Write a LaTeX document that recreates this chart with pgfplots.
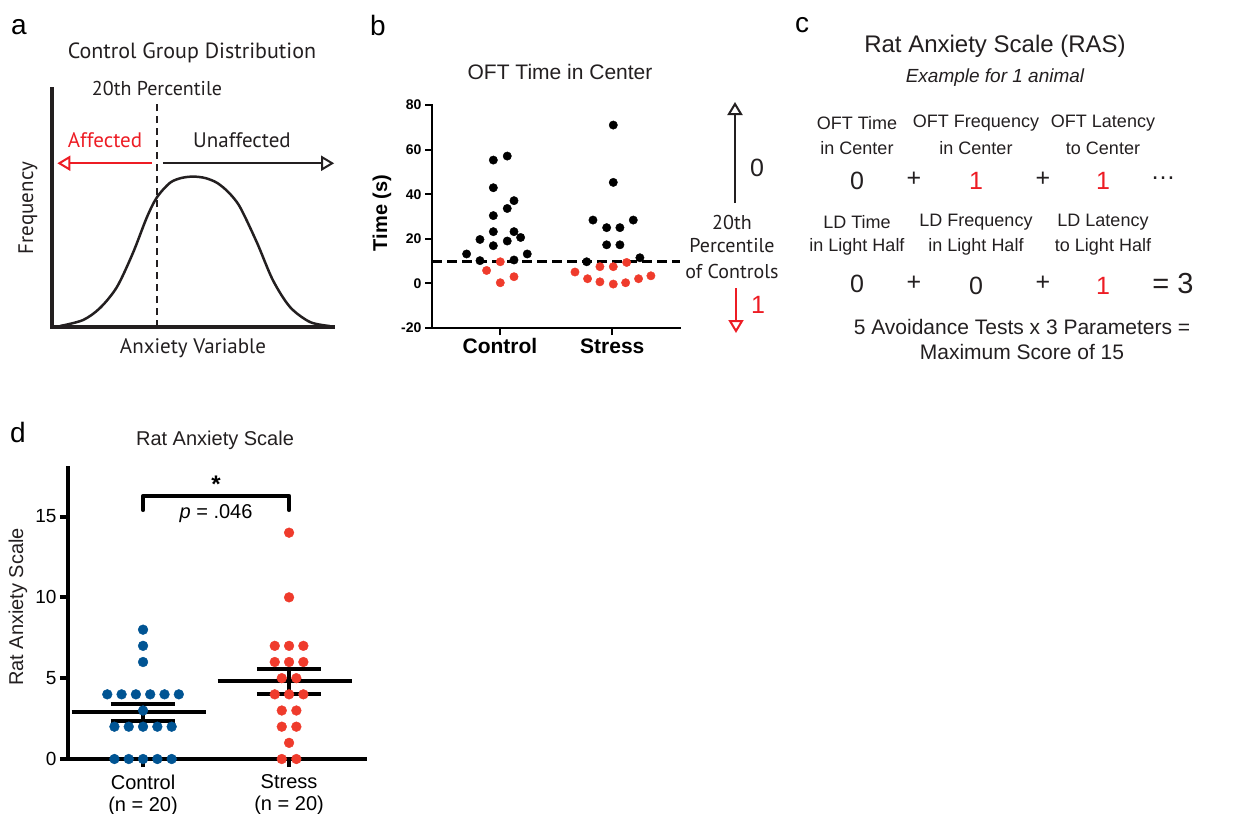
\documentclass[border=0pt]{standalone}
\usepackage{fontspec}
\setmainfont{Liberation Sans}
\newfontfamily\myriad{PT Sans}
\usepackage{pgfplots}
\pgfplotsset{compat=1.18}
\usetikzlibrary{arrows.meta}

\definecolor{dotred}{RGB}{239,59,44}
\definecolor{txtred}{RGB}{237,28,36}
\definecolor{dotblue}{RGB}{0,84,147}
\definecolor{ink}{RGB}{35,31,32}

\newcommand\fs[2]{\fontsize{#1}{#2}\selectfont}

\pgfplotsset{panel/.style={scale only axis, axis lines=left, tick align=outside,
  clip=false, /pgf/number format/assume math mode=true}}
\tikzset{openhead/.style={-{Triangle[open,length=13pt,width=15pt]}}}

\begin{document}
\begin{tikzpicture}[x=1pt,y=-1pt]
\useasboundingbox (0,0) rectangle (1256,814);

% ---------------- a: control group distribution ----------------
\begin{axis}[panel, at={(52pt,-327pt)}, anchor=south west,
  width=281pt, height=238pt, xmin=0, xmax=100, ymin=0, ymax=100,
  xtick=\empty, ytick=\empty,
  axis line style={-, line width=4pt, line cap=rect, ink}]
\addplot[ink, line width=2.5pt, smooth, tension=0.5] coordinates {
  (2.8,0.4) (11.0,2.9) (17.1,8.0) (23.1,16.8) (28.8,31.1) (33.8,46.2)
  (37.4,54.6) (42.0,60.6) (46.0,62.6) (50.2,63.2) (54.5,62.6) (58.7,60.6)
  (62.8,56.6) (66.9,50.4) (73.0,35.3)
  (78.6,19.7) (84.7,8.4) (91.8,2.1) (98.9,0.4)};
\addplot[ink, line width=2pt, dash pattern=on 7pt off 5pt] coordinates {(37.4,0) (37.4,94.1)};
\draw[txtred, line width=2pt, openhead]
  (axis cs:35.6,68.8) -- (axis cs:1.9,68.8);
\draw[ink, line width=2pt, openhead]
  (axis cs:39.5,68.8) -- (axis cs:100.4,68.8);
\end{axis}
\node[font=\fs{28}{30}] at (19,27) {a};
\node[font=\myriad\fs{22}{25}, ink] at (192,53) {Control Group Distribution};
\node[font=\myriad\fs{20}{22}, ink] at (157,88) {20th Percentile};
\node[font=\myriad\fs{21}{23}, txtred] at (105,140) {Affected};
\node[font=\myriad\fs{21}{23}, ink] at (242,140) {Unaffected};
\node[font=\myriad\fs{21}{23}, ink, rotate=90] at (28,208) {Frequency};
\node[font=\myriad\fs{21}{23}, ink] at (193,348) {Anxiety Variable};

% ---------------- b: OFT time in center ----------------
\begin{axis}[panel, at={(432pt,-328pt)}, anchor=south west,
  width=248pt, height=223pt, xmin=-0.605, xmax=1.603, ymin=-20, ymax=80,
  ytick={-20,0,20,40,60,80}, xtick={0,1}, xticklabels={Control,Stress},
  axis line style={-, line width=2pt, line cap=rect},
  major tick length=7pt, tick style={line width=2pt, black},
  yticklabel style={font=\bfseries\fs{14}{16}},
  xticklabel style={font=\bfseries\fs{21}{24}}]
\addplot[only marks, mark=*, mark size=4.2pt, black] coordinates {
  (-0.297,13.2) (-0.178,19.7) (-0.178,10.2) (-0.059,55.3) (-0.059,42.9)
  (-0.059,30.4) (-0.059,23.2) (-0.059,16.9) (0.065,57.1) (0.065,33.6)
  (0.065,19.0) (0.125,37.1) (0.125,23.2) (0.125,10.5) (0.184,20.6) (0.243,13.2)
  (0.772,9.7) (0.828,28.4) (0.950,25.0) (1.068,25.0) (0.950,17.3) (1.068,17.3)
  (1.009,71.0) (1.009,45.3) (1.187,28.4) (1.246,11.5)};
\addplot[only marks, mark=*, mark size=4.2pt, dotred] coordinates {
  (-0.119,5.8) (0.003,9.7) (0.003,0.3) (0.125,3.0)
  (0.668,5.1) (0.780,2.1) (0.890,7.5) (0.890,0.7) (1.009,7.5) (1.009,-0.3)
  (1.119,0.3) (1.128,9.4) (1.234,2.1) (1.344,3.4)};
\addplot[black, line width=3pt, dash pattern=on 10pt off 5pt] coordinates {(-0.605,10) (1.603,10)};
\end{axis}
\node[font=\fs{28}{30}] at (378,25) {b};
\node[font=\fs{21}{24}, ink] at (560,72) {OFT Time in Center};
\node[font=\bfseries\fs{20}{22}, rotate=90] at (382,213) {Time (s)};
\draw[ink, line width=2pt, openhead] (735,203) -- (735,102);
\node[font=\fs{25}{28}, ink] at (757,168) {0};
\node[font=\myriad\fs{20}{23}, ink] at (732,222) {20th};
\node[font=\myriad\fs{20}{23}, ink] at (732,246) {Percentile};
\node[font=\myriad\fs{20}{23}, ink] at (732,271) {of Controls};
\draw[txtred, line width=2pt, openhead] (736,288) -- (736,333);
\node[font=\fs{25}{28}, txtred] at (758,305) {1};

% ---------------- c: rat anxiety scale example ----------------
\node[font=\fs{28}{30}] at (802,25) {c};
\node[font=\fs{24}{28}, ink] at (995,46) {Rat Anxiety Scale (RAS)};
\node[font=\itshape\fs{19}{22}, ink] at (995,78) {Example for 1 animal};
\foreach \cx/\la/\lb in {857/OFT Time/in Center, 976/OFT Frequency/in Center, 1103/OFT Latency/to Center}
  {\node[font=\fs{18}{21}, ink] at (\cx,123) {\la};
   \node[font=\fs{18}{21}, ink] at (\cx,148) {\lb};}
\foreach \cx/\la/\lb in {857/LD Time/in Light Half, 976/LD Frequency/in Light Half, 1103/LD Latency/to Light Half}
  {\node[font=\fs{18}{21}, ink] at (\cx,222) {\la};
   \node[font=\fs{18}{21}, ink] at (\cx,247) {\lb};}
\node[font=\fs{25}{28}, ink] at (857,181) {0};
\node[font=\fs{25}{28}, ink] at (914,179) {+};
\node[font=\fs{25}{28}, txtred] at (976,181) {1};
\node[font=\fs{25}{28}, ink] at (1043,179) {+};
\node[font=\fs{25}{28}, txtred] at (1103,181) {1};
\node[font=\fs{25}{28}, ink] at (1163,178) {\dots};
\node[font=\fs{25}{28}, ink] at (857,284) {0};
\node[font=\fs{25}{28}, ink] at (914,283) {+};
\node[font=\fs{25}{28}, ink] at (976,286) {0};
\node[font=\fs{25}{28}, ink] at (1043,283) {+};
\node[font=\fs{25}{28}, txtred] at (1103,286) {1};
\node[font=\fs{29}{32}, ink] at (1173,284) {= 3};
\node[font=\fs{21}{24}, ink] at (1022,327) {5 Avoidance Tests x 3 Parameters =};
\node[font=\fs{21}{24}, ink] at (1022,352) {Maximum Score of 15};

% ---------------- d: rat anxiety scale scores ----------------
\begin{axis}[panel, at={(68pt,-759pt)}, anchor=south west,
  width=297pt, height=291pt, xmin=-0.514, xmax=1.52, ymin=0, ymax=18,
  ytick={0,5,10,15}, xtick={0,1},
  xticklabels={{Control\\(n = 20)},{Stress\\(n = 20)}},
  axis line style={-, line width=4pt, line cap=rect},
  major tick length=8pt, tick style={line width=4pt, black},
  yticklabel style={font=\fs{19}{22}},
  xticklabel style={font=\fs{20}{22}, align=center, yshift=-4pt}]
\addplot[only marks, mark=*, mark size=4.9pt, dotblue] coordinates {
  (0,8) (0,7) (0,6)
  (-0.245,4) (-0.147,4) (-0.049,4) (0.049,4) (0.147,4) (0.245,4)
  (0,3)
  (-0.196,2) (-0.098,2) (0,2) (0.098,2) (0.196,2)
  (-0.196,0) (-0.098,0) (0,0) (0.098,0) (0.196,0)};
\addplot[only marks, mark=*, mark size=4.9pt, dotred] coordinates {
  (1,14) (1,10)
  (0.902,7) (1,7) (1.098,7)
  (0.902,6) (1,6) (1.098,6)
  (0.95,5) (1.05,5)
  (0.902,4) (1,4) (1.098,4)
  (0.95,3) (1.05,3)
  (0.95,2) (1.05,2)
  (1,1)
  (0.95,0) (1.05,0)};
% mean and SEM
\addplot[black, line width=4pt] coordinates {(-0.49,2.9) (0.43,2.9)};
\addplot[black, line width=4pt] coordinates {(0,2.37) (0,3.43)};
\addplot[black, line width=4pt] coordinates {(-0.22,3.43) (0.22,3.43)};
\addplot[black, line width=4pt] coordinates {(-0.22,2.37) (0.22,2.37)};
\addplot[black, line width=4pt] coordinates {(0.51,4.8) (1.43,4.8)};
\addplot[black, line width=4pt] coordinates {(1,4.05) (1,5.55)};
\addplot[black, line width=4pt] coordinates {(0.78,5.55) (1.22,5.55)};
\addplot[black, line width=4pt] coordinates {(0.78,4.05) (1.22,4.05)};
% significance bracket
\addplot[black, line width=4pt, line cap=round, line join=round] coordinates {(0,15.4) (0,16.28) (1,16.28) (1,15.4)};
\node[font=\bfseries\fs{24}{26}] at (axis cs:0.5,17.0) {*};
\node[font=\fs{20}{22}] at (axis cs:0.5,15.2) {\textit{p} = .046};
\end{axis}
\node[font=\fs{28}{30}] at (18,432) {d};
\node[font=\fs{20}{23}, ink] at (215,440) {Rat Anxiety Scale};
\node[font=\fs{20}{23}, ink, rotate=90] at (18,607) {Rat Anxiety Scale};

\end{tikzpicture}
\end{document}
